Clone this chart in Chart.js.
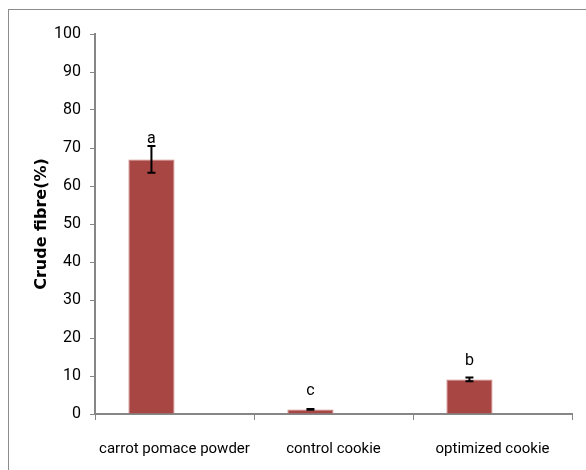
<!DOCTYPE html>
<html>
<head>
<meta charset="utf-8">
<script src="https://cdn.jsdelivr.net/npm/chart.js@4.4.0/dist/chart.umd.min.js"></script>
<style>
  html, body { margin: 0; padding: 0; background: #fff; overflow: hidden; }
  #wrap { position: relative; width: 586px; height: 470px; }
  #frame { position: absolute; left: 8px; top: 9px; width: 600px; height: 500px; border: 1px solid #8c8c8c; }
  canvas { position: absolute; left: 0; top: 0; }
</style>
</head>
<body>
<div id="wrap">
  <div id="frame"></div>
  <canvas id="chart" width="586" height="470"></canvas>
</div>
<script>
// Crude fibre content per sample
const categories = ['carrot pomace powder', 'control cookie', 'optimized cookie'];
const fibreValues = [67.0, 1.2, 9.1];
const fibreErrors = [3.5, 0.1, 0.5];
const letters = ['a', 'c', 'b'];
const emptySeries = [null, null, null]; // second (blank) series in the original sheet
const yTicks = [0, 10, 20, 30, 40, 50, 60, 70, 80, 90, 100];

const tickFamily = '"Liberation Sans Narrow", "Arial Narrow", Roboto, sans-serif';

// error bars + significance letters
const errorBarPlugin = {
    id: 'errorBars',
    afterDatasetsDraw(chart) {
        const ctx = chart.ctx;
        const meta = chart.getDatasetMeta(0);
        const y = chart.scales.y;
        ctx.save();
        meta.data.forEach((bar, i) => {
            const x = bar.x;
            const top = y.getPixelForValue(fibreValues[i] + fibreErrors[i]);
            const bot = y.getPixelForValue(fibreValues[i] - fibreErrors[i]);
            ctx.strokeStyle = '#000';
            ctx.lineWidth = 2;
            ctx.beginPath();
            ctx.moveTo(x, top); ctx.lineTo(x, bot);
            ctx.moveTo(x - 4, top); ctx.lineTo(x + 4, top);
            ctx.moveTo(x - 4, bot); ctx.lineTo(x + 4, bot);
            ctx.stroke();

            // letter sits above the bar, but never on the error cap
            const base = Math.min(y.getPixelForValue(fibreValues[i]) - 14, top - 3);
            ctx.fillStyle = '#000';
            ctx.font = '16px ' + tickFamily;
            ctx.textAlign = 'center';
            ctx.textBaseline = 'alphabetic';
            ctx.fillText(letters[i], x, base);
        });
        ctx.restore();
    }
};

new Chart(document.getElementById('chart'), {
    type: 'bar',
    data: {
        labels: categories,
        datasets: [{
            data: fibreValues,
            backgroundColor: '#a84644',
            borderColor: '#c9807e',
            borderWidth: 1,
            categoryPercentage: 0.58,
            barPercentage: 1.0
        }, {
            data: emptySeries,
            backgroundColor: '#4f81bd',
            categoryPercentage: 0.58,
            barPercentage: 1.0
        }]
    },
    options: {
        responsive: false,
        animation: false,
        layout: { padding: { left: 0, right: 14, top: 34, bottom: 0 } },
        plugins: { legend: { display: false }, tooltip: { enabled: false } },
        scales: {
            x: {
                afterFit: s => { s.height = 56; },
                grid: { drawOnChartArea: false, drawTicks: true, tickLength: 6, color: '#868686', offset: true },
                border: { display: true, color: '#868686', width: 2 },
                ticks: { color: '#000', font: { family: tickFamily, size: 15 }, padding: 20, maxRotation: 0, autoSkip: false }
            },
            y: {
                min: 0,
                max: 100,
                afterFit: s => { s.width = 95; },
                afterBuildTicks: s => { s.ticks = yTicks.map(v => ({ value: v })); },
                grid: { drawOnChartArea: false, drawTicks: true, tickLength: 5, color: '#868686' },
                border: { display: true, color: '#868686', width: 2 },
                ticks: { color: '#000', font: { family: tickFamily, size: 16 }, padding: 9 },
                title: {
                    display: true,
                    text: 'Crude fibre(%)',
                    color: '#000',
                    font: { family: '"DejaVu Sans", sans-serif', size: 16, weight: 'bold' },
                    padding: { top: 32, bottom: 0 }
                }
            }
        }
    },
    plugins: [errorBarPlugin]
});
</script>
</body>
</html>
